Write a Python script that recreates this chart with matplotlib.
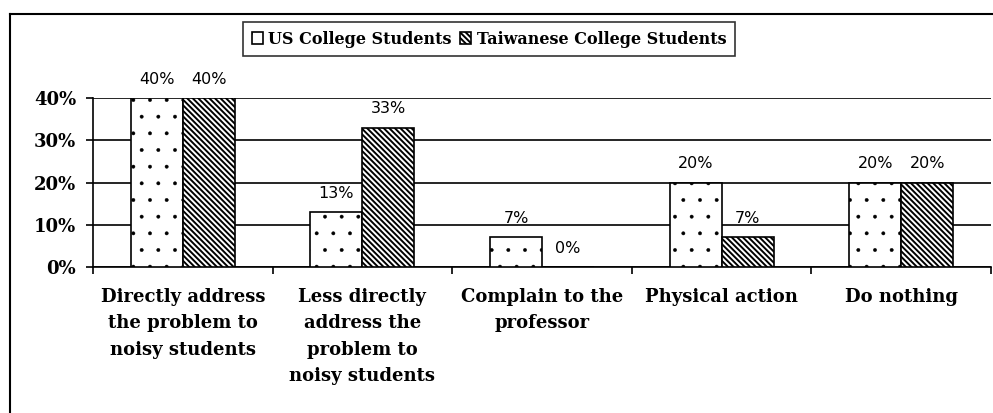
import numpy as np
import matplotlib.pyplot as plt
from matplotlib.lines import Line2D
from matplotlib.ticker import FuncFormatter

# data
categories = ["Directly address\nthe problem to\nnoisy students",
              "Less directly\naddress the\nproblem to\nnoisy students",
              "Complain to the\nprofessor",
              "Physical action",
              "Do nothing"]
us_students = [40, 13, 7, 20, 20]
tw_students = [40, 33, 0, 7, 20]
series_names = ["US College Students", "Taiwanese College Students"]

serif = ['DejaVu Serif']

fig = plt.figure(figsize=(9.93, 4.13), dpi=100)
ax = fig.add_axes([93/993, 1 - 267/413, 898/993, 169/413])

x = np.arange(len(categories))
w = 0.29
plt.rcParams['hatch.linewidth'] = 0.3
b1 = ax.bar(x - w/2, us_students, w, color='white', edgecolor='black',
            hatch='.', linewidth=1.2, label=series_names[0], zorder=3)
plt.rcParams['hatch.linewidth'] = 1.4
b2 = ax.bar(x + w/2, tw_students, w, color='white', edgecolor='black',
            hatch='\\' * 6, linewidth=1.2, label=series_names[1], zorder=3)

for bars, vals in [(b1, us_students), (b2, tw_students)]:
    for r, v in zip(bars, vals):
        ax.annotate(f"{v}%", (r.get_x() + r.get_width()/2, v),
                    xytext=(0, 8), textcoords='offset points',
                    ha='center', va='bottom', fontsize=11.5,
                    family='DejaVu Sans')

ax.set_xlim(-0.5, len(categories) - 0.5)
ax.set_ylim(0, 40)
ax.set_yticks([0, 10, 20, 30, 40])
ax.yaxis.set_major_formatter(FuncFormatter(lambda v, p: f"{int(v)}%"))
ax.yaxis.grid(True, color='black', linewidth=1.2, zorder=0)
ax.set_axisbelow(True)
for lab in ax.get_yticklabels():
    lab.set_family(serif)
    lab.set_fontweight('bold')
    lab.set_fontsize(13)
ax.tick_params(axis='y', length=5, width=1.2, pad=7)

ax.set_xticks(np.arange(-0.5, len(categories)))
ax.set_xticklabels([])
ax.tick_params(axis='x', length=5, width=1.2)
for i, c in enumerate(categories):
    ax.text(i, -4.9, c, ha='center', va='top', fontsize=13,
            fontweight='bold', family=serif, linespacing=1.6)

for s in ['top', 'right']:
    ax.spines[s].set_visible(False)
for s in ['left', 'bottom']:
    ax.spines[s].set_linewidth(1.2)

leg = fig.legend(handles=[b1, b2], loc='center', bbox_to_anchor=(489/993, 1 - 39/413),
                 ncol=2, frameon=True, fancybox=False, edgecolor='black',
                 handlelength=0.7, handleheight=0.7, handletextpad=0.35,
                 columnspacing=0.5, borderpad=0.55,
                 prop={'family': serif, 'weight': 'bold', 'size': 11.5})
leg.get_frame().set_linewidth(1.2)

# outer chart border
fig.add_artist(Line2D([10/993, 1], [1 - 14/413, 1 - 14/413], color='black', lw=1.5))
fig.add_artist(Line2D([10/993, 10/993], [0, 1 - 14/413], color='black', lw=1.5))

fig.savefig('out.png', dpi=100)
